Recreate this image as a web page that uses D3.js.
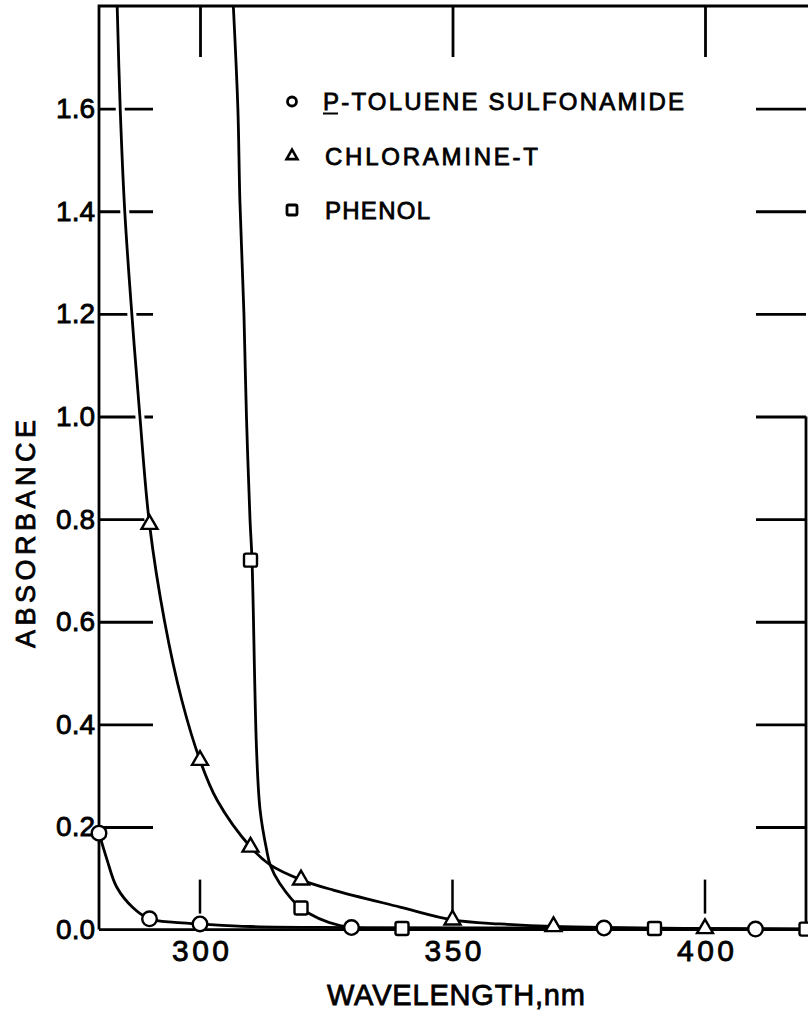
<!DOCTYPE html>
<html>
<head>
<meta charset="utf-8">
<script src="https://cdn.jsdelivr.net/npm/d3@7"></script>
<style>
  body { margin: 0; background: #fff; }
  text { font-family: "Liberation Sans", Arial, sans-serif; fill: #000; stroke: #000; stroke-width: 0.8px; }
</style>
</head>
<body>
<svg id="chart" width="808" height="1021"></svg>
<script>
// measured points (markers)
var sulfWl  = [280, 290, 300, 330, 380, 410];
var sulfAbs = [0.188, 0.021, 0.011, 0.004, 0.003, 0.001];
var chlorWl  = [290, 300, 310, 320, 350, 370, 400];
var chlorAbs = [0.79, 0.33, 0.161, 0.097, 0.019, 0.006, 0.002];
var phenWl  = [310, 320, 340, 390, 420];
var phenAbs = [0.72, 0.042, 0.002, 0.002, 0.001];

// hand drawn curves
var sulfCurveWl  = [280, 281.6, 283.5, 286.8, 290, 295, 300, 310, 330, 380, 410, 420];
var sulfCurveAbs = [0.188, 0.136, 0.083, 0.042, 0.021, 0.014, 0.011, 0.006, 0.004, 0.003, 0.001, 0.001];
var chlorCurveWl  = [283.6, 284.2, 285.1, 286.5, 288.1, 290, 293, 296.4, 300, 303.4, 310, 313.9, 320, 326.4, 339.6, 350, 359.4, 370, 400, 420];
var chlorCurveAbs = [1.8, 1.6, 1.4, 1.2, 1.0, 0.79, 0.6, 0.447, 0.33, 0.252, 0.161, 0.126, 0.097, 0.077, 0.044, 0.019, 0.011, 0.006, 0.002, 0.001];
var phenCurveWl  = [306.6, 307.5, 307.9, 308.7, 309.2, 309.9, 310.3, 311.2, 311.9, 313.2, 313.9, 315.8, 320, 327.7, 340, 390, 420];
var phenCurveAbs = [1.8, 1.6, 1.42, 1.2, 1.0, 0.8, 0.72, 0.35, 0.233, 0.155, 0.126, 0.09, 0.042, 0.008, 0.002, 0.002, 0.001];

var xTicks = [300, 350, 400];
var yTicks = [0, 0.2, 0.4, 0.6, 0.8, 1.0, 1.2, 1.4, 1.6];
var yTickLabels = ["0.0", "0.2", "0.4", "0.6", "0.8", "1.0", "1.2", "1.4", "1.6"];
var legendNames = ["P-TOLUENE SULFONAMIDE", "CHLORAMINE-T", "PHENOL"];

var svg = d3.select("#chart");

var x = d3.scaleLinear().domain([280, 420]).range([99, 806]);
var y = d3.scaleLinear().domain([0, 1.8]).range([929.6, 6]);

function zip(a, b) { return a.map(function(v, i) { return [v, b[i]]; }); }

// tick marks (drawn first so the white halo of the curves can break them)
var ticks = svg.append("g");

var leftAx = d3.axisLeft(y).tickValues(yTicks)
  .tickFormat(function(d, i) { return yTickLabels[i]; })
  .tickSize(-54).tickPadding(4);
var gl = ticks.append("g").attr("transform", "translate(99,0)").call(leftAx);
gl.select(".domain").remove();
gl.selectAll(".tick").filter(function(d) { return d === 0; }).select("line").remove();
gl.selectAll("line").attr("stroke-width", 2.8);
gl.selectAll("text").attr("font-size", 28).style("font-family", "Liberation Sans, Arial, sans-serif");

var gt = ticks.append("g").attr("transform", "translate(0,6)")
  .call(d3.axisTop(x).tickValues(xTicks).tickSize(-51).tickFormat(""));
gt.select(".domain").remove();
gt.selectAll("line").attr("stroke-width", 2.8);

var gr = ticks.append("g").attr("transform", "translate(806,0)")
  .call(d3.axisRight(y).tickValues(yTicks.slice(1)).tickSize(-50).tickFormat(""));
gr.select(".domain").remove();
gr.selectAll("line").attr("stroke-width", 2.8);

// bottom ticks sit above the crowded baseline
ticks.selectAll(".btick").data(xTicks).enter().append("line")
  .attr("x1", function(d) { return x(d); }).attr("x2", function(d) { return x(d); })
  .attr("y1", y(0) - 16).attr("y2", y(0) - 50)
  .attr("stroke", "#000").attr("stroke-width", 2.5);

var gb = svg.append("g").attr("transform", "translate(0," + y(0) + ")")
  .call(d3.axisBottom(x).tickValues(xTicks).tickSize(0).tickPadding(10).tickFormat(d3.format("d")));
gb.select(".domain").remove();
gb.selectAll("text").attr("font-size", 30).attr("textLength", 57).attr("lengthAdjust", "spacing")
  .style("font-family", "Liberation Sans, Arial, sans-serif");

var line = d3.line()
  .x(function(d) { return x(d[0]); })
  .y(function(d) { return y(d[1]); })
  .curve(d3.curveCatmullRom.alpha(0.5));

var curves = [zip(sulfCurveWl, sulfCurveAbs), zip(chlorCurveWl, chlorCurveAbs), zip(phenCurveWl, phenCurveAbs)];

svg.append("g").selectAll("path").data(curves).enter().append("path")
  .attr("d", line).attr("fill", "none").attr("stroke", "#fff").attr("stroke-width", 9);

// frame
svg.append("path")
  .attr("d", "M" + x(280) + "," + y(0) + "V" + y(1.8) + "H808 M" + x(280) + "," + y(0) + "H" + x(420) + "V" + y(1.0))
  .attr("fill", "none").attr("stroke", "#000").attr("stroke-width", 2.8);

svg.append("g").selectAll("path").data(curves).enter().append("path")
  .attr("d", line).attr("fill", "none").attr("stroke", "#000").attr("stroke-width", 2.8);

// markers
var marks = svg.append("g").attr("fill", "#fff").attr("stroke", "#000").attr("stroke-width", 2.4);
marks.selectAll(".c").data(zip(sulfWl, sulfAbs)).enter().append("circle")
  .attr("cx", function(d) { return x(d[0]); }).attr("cy", function(d) { return y(d[1]); })
  .attr("r", 7.3);
marks.selectAll(".t").data(zip(chlorWl, chlorAbs)).enter().append("path")
  .attr("d", d3.symbol().type(d3.symbolTriangle).size(110))
  .attr("transform", function(d) { return "translate(" + x(d[0]) + "," + y(d[1]) + ")"; });
marks.selectAll(".s").data(zip(phenWl, phenAbs)).enter().append("rect")
  .attr("x", function(d) { return x(d[0]) - 6.5; }).attr("y", function(d) { return y(d[1]) - 6.5; })
  .attr("width", 13).attr("height", 13).attr("rx", 2);

// legend
var legY = [101.5, 156, 210];
var legLen = [361, 213, 105];
var leg = svg.append("g");
leg.append("circle").attr("cx", 292).attr("cy", legY[0]).attr("r", 4.5)
  .attr("fill", "#fff").attr("stroke", "#000").attr("stroke-width", 2.8);
leg.append("path").attr("d", d3.symbol().type(d3.symbolTriangle).size(52))
  .attr("transform", "translate(292," + legY[1] + ")")
  .attr("fill", "#fff").attr("stroke", "#000").attr("stroke-width", 2.6);
leg.append("rect").attr("x", 287).attr("y", legY[2] - 5).attr("width", 10).attr("height", 10).attr("rx", 1.5)
  .attr("fill", "#fff").attr("stroke", "#000").attr("stroke-width", 2.8);
leg.selectAll("text").data(legendNames).enter().append("text")
  .attr("x", function(d, i) { return i === 0 ? 323 : 325; })
  .attr("y", function(d, i) { return legY[i] + 8.6; })
  .attr("font-size", 24)
  .attr("textLength", function(d, i) { return legLen[i]; })
  .attr("lengthAdjust", "spacing")
  .text(function(d) { return d; });
// underline under the P
leg.append("line").attr("x1", 323).attr("x2", 338).attr("y1", legY[0] + 12).attr("y2", legY[0] + 12)
  .attr("stroke", "#000").attr("stroke-width", 2);

// axis titles
svg.append("text").attr("transform", "translate(35,534) rotate(-90)")
  .attr("text-anchor", "middle").attr("font-size", 27)
  .attr("textLength", 228).attr("lengthAdjust", "spacing")
  .text("ABSORBANCE");
svg.append("text").attr("x", 456).attr("y", 1005)
  .attr("text-anchor", "middle").attr("font-size", 29)
  .attr("textLength", 258).attr("lengthAdjust", "spacing")
  .text("WAVELENGTH,nm");
</script>
</body>
</html>
